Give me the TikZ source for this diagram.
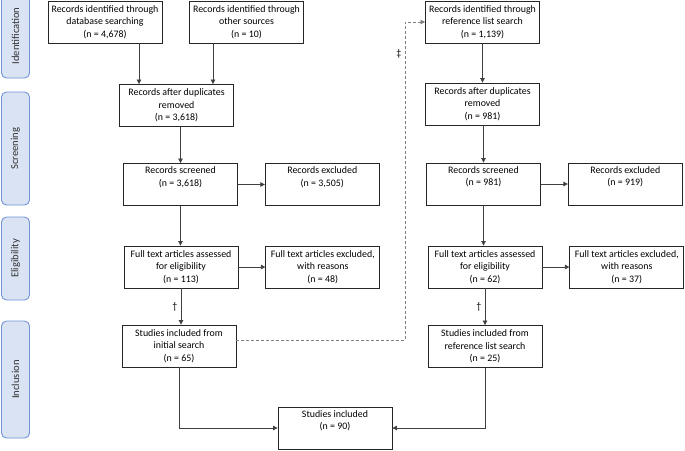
\documentclass[tikz,border=0pt]{standalone}
\usepackage{fontspec}
\setmainfont{Carlito}
\usetikzlibrary{arrows.meta,positioning}
\definecolor{stagefill}{HTML}{DAE3F3}
\definecolor{stageline}{HTML}{7094D4}
\definecolor{linkgray}{HTML}{404040}

\begin{document}
\begin{tikzpicture}
  [x=1pt, y=-1pt,
  stage/.style={rectangle, rounded corners=5pt, draw=stageline, fill=stagefill,
    line width=0.9pt, rotate=90, minimum height=28pt, inner sep=0pt,
    text=black!80, font=\fontsize{10.6}{12}\selectfont},
  box/.style={rectangle, draw=black!85, line width=0.8pt, align=center,
    minimum width=114pt, minimum height=42pt, inner sep=0pt,
    font=\fontsize{9.9}{12.4}\selectfont},
  link/.style={draw=linkgray, line width=0.7pt, -{Triangle[length=4.5pt,width=4.5pt]}},
  back/.style={link, dashed, dash pattern=on 3pt off 2pt, draw=gray}]

  \useasboundingbox (0,0) rectangle (685,450);

  % stages on the left
  \node[stage, minimum width=84pt]  (ident)  at (15.5,36)    {Identification};
  \node[stage, minimum width=113pt] (screen) at (15.5,148.5) {Screening};
  \node[stage, minimum width=83pt]  (elig)   at (15.5,258.5) {Eligibility};
  \node[stage, minimum width=117pt] (incl)   at (15.5,379.5) {Inclusion};

  % initial search
  \node[box] (database) at (105,22)   {Records identified through\\database searching\\(n = 4,678)};
  \node[box] (other)    at (246.5,22) {Records identified through\\other sources\\(n = 10)};
  \node[box] (dup-a)    at (176.5,105.5) {Records after duplicates\\removed\\(n = 3,618)};
  \node[box] (screen-a) at (180.5,184.5) {Records screened\\(n = 3,618)\\\strut};
  \node[box] (excl-a) [right=27pt of screen-a] {Records excluded\\(n = 3,505)\\\strut};
  \node[box] (full-a)   at (181,267)    {Full text articles assessed\\for eligibility\\(n = 113)};
  \node[box] (fexcl-a) [right=27pt of full-a] {Full text articles excluded,\\with reasons\\(n = 48)};
  \node[box] (incl-a)   at (179,346)    {Studies included from\\initial search\\(n = 65)};

  % reference list search
  \node[box] (ref)      at (482.5,22)   {Records identified through\\reference list search\\(n = 1,139)};
  \node[box] (dup-b)    at (482.5,104)  {Records after duplicates\\removed\\(n = 981)};
  \node[box] (screen-b) at (483.5,184)  {Records screened\\(n = 981)\\\strut};
  \node[box] (excl-b) [right=27pt of screen-b] {Records excluded\\(n = 919)\\\strut};
  \node[box] (full-b)   at (485,267)    {Full text articles assessed\\for eligibility\\(n = 62)};
  \node[box] (fexcl-b) [right=27pt of full-b] {Full text articles excluded,\\with reasons\\(n = 37)};
  \node[box] (incl-b)   at (485,346.5)  {Studies included from\\reference list search\\(n = 25)};

  \node[box] (total)    at (335,428)    {Studies included\\(n = 90)\\\strut};

  \coordinate (turn) at (405,340);

  \draw[link] ([xshift=34pt]database.south) -- ([xshift=34pt]database.south |- dup-a.north);
  \draw[link] ([xshift=-33.5pt]other.south) -- ([xshift=-33.5pt]other.south |- dup-a.north);
  \draw[link] (dup-a.south -| screen-a.north) -- (screen-a.north);
  \draw[link] (screen-a.east) -- (excl-a.west);
  \draw[link] (screen-a.south) -- (screen-a.south |- full-a.north);
  \draw[link] (full-a.east) -- (fexcl-a.west);
  \draw[link] (full-a.south) -- node[left] {†} (full-a.south |- incl-a.north);
  \draw[link] (incl-a.south) |- (total.west);

  \draw[link] (ref.south) -- (ref.south |- dup-b.north);
  \draw[link] (dup-b.south -| screen-b.north) -- (screen-b.north);
  \draw[link] (screen-b.east) -- (excl-b.west);
  \draw[link] (screen-b.south) -- (screen-b.south |- full-b.north);
  \draw[link] (full-b.east) -- (fexcl-b.west);
  \draw[link] (full-b.south) -- node[left] {†} (full-b.south |- incl-b.north);
  \draw[link] (incl-b.south) |- (total.east);

  \draw[back] (incl-a.east |- turn) -- (turn) |- node[pos=0.45, left, text=black] {‡} (ref.west);

\end{tikzpicture}
\end{document}
